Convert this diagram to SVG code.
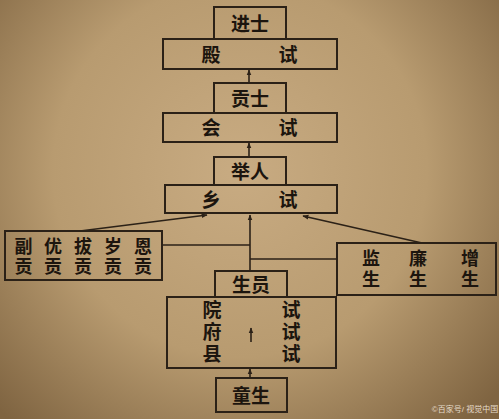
<svg xmlns="http://www.w3.org/2000/svg" width="499" height="419" viewBox="0 0 499 419">
<defs>
<radialGradient id="bg" cx="240" cy="170" r="340" gradientUnits="userSpaceOnUse">
<stop offset="0" stop-color="#c8ab82"/>
<stop offset="0.55" stop-color="#b89b70"/>
<stop offset="1" stop-color="#7f6441"/>
</radialGradient>
<marker id="ah" viewBox="0 0 10 10" refX="9" refY="5" markerWidth="6" markerHeight="6" orient="auto" markerUnits="userSpaceOnUse">
<path d="M0,1 L10,5 L0,9 z" fill="#2b2117"/>
</marker>
<style>
.b{fill:none;stroke:#2b2117;stroke-width:2}
.l{fill:none;stroke:#2b2117;stroke-width:1.6}
.t{font-family:"Liberation Sans","Noto Sans CJK SC","Noto Sans CJK TC",sans-serif;font-weight:bold;fill:#1c150e;text-anchor:middle;dominant-baseline:central}
.h{font-size:19px}
.m{font-size:19px}
.s{font-size:18px}
</style>
</defs>
<rect width="499" height="419" fill="url(#bg)"/>
<g id="connectors">
<line class="l" x1="249" y1="83" x2="249" y2="70" marker-end="url(#ah)"/>
<line class="l" x1="249" y1="157" x2="249" y2="143" marker-end="url(#ah)"/>
<line class="l" x1="250" y1="271" x2="250" y2="215" marker-end="url(#ah)"/>
<line class="l" x1="162" y1="245" x2="250" y2="245"/>
<line class="l" x1="250" y1="259" x2="337" y2="259"/>
<line class="l" x1="80" y1="231" x2="207" y2="215" marker-end="url(#ah)"/>
<line class="l" x1="422" y1="243" x2="303" y2="216" marker-end="url(#ah)"/>
<line class="l" x1="250" y1="378" x2="250" y2="369" marker-end="url(#ah)"/>
<line class="l" x1="251" y1="342" x2="251" y2="328" marker-end="url(#ah)"/>
</g>
<g id="jinshi">
<rect class="b" x="214" y="7" width="72" height="32"/>
<text class="t h" x="250" y="24">进士</text>
</g>
<g id="dianshi">
<rect class="b" x="163" y="39" width="174" height="30"/>
<text class="t m" x="211" y="55">殿</text>
<text class="t m" x="288" y="55">试</text>
</g>
<g id="gongshi">
<rect class="b" x="214" y="83" width="72" height="30"/>
<text class="t h" x="250" y="99">贡士</text>
</g>
<g id="huishi">
<rect class="b" x="163" y="113" width="174" height="29"/>
<text class="t m" x="211" y="128">会</text>
<text class="t m" x="288" y="128">试</text>
</g>
<g id="juren">
<rect class="b" x="214" y="157" width="72" height="28"/>
<text class="t h" x="250" y="172">举人</text>
</g>
<g id="xiangshi">
<rect class="b" x="165" y="185" width="172" height="28"/>
<text class="t m" x="211" y="200">乡</text>
<text class="t m" x="288" y="200">试</text>
</g>
<g id="fugong">
<rect class="b" x="5" y="231" width="157" height="49"/>
<text class="t s" x="23.5" y="246.5">副</text>
<text class="t s" x="53" y="246.5">优</text>
<text class="t s" x="83" y="246.5">拔</text>
<text class="t s" x="113" y="246.5">岁</text>
<text class="t s" x="143" y="246.5">恩</text>
<text class="t s" x="23.5" y="266.5">贡</text>
<text class="t s" x="53" y="266.5">贡</text>
<text class="t s" x="83" y="266.5">贡</text>
<text class="t s" x="113" y="266.5">贡</text>
<text class="t s" x="143" y="266.5">贡</text>
</g>
<g id="jiansheng">
<rect class="b" x="337" y="243" width="159" height="52"/>
<text class="t s" x="371" y="259">监</text>
<text class="t s" x="418" y="259">廉</text>
<text class="t s" x="470" y="259">增</text>
<text class="t s" x="371" y="280">生</text>
<text class="t s" x="418" y="280">生</text>
<text class="t s" x="470" y="280">生</text>
</g>
<g id="shengyuan">
<rect class="b" x="215" y="271" width="72" height="26"/>
<text class="t h" x="251" y="285">生员</text>
</g>
<g id="yuanshi">
<rect class="b" x="167" y="297" width="169" height="71"/>
<text class="t m" x="212" y="310">院</text>
<text class="t m" x="212" y="332">府</text>
<text class="t m" x="212" y="354">县</text>
<text class="t m" x="291" y="310">试</text>
<text class="t m" x="291" y="332">试</text>
<text class="t m" x="291" y="354">试</text>
</g>
<g id="tongsheng">
<rect class="b" x="216" y="378" width="71" height="34"/>
<text class="t h" x="251" y="396">童生</text>
</g>
<text x="465" y="409" font-family="'Liberation Sans','Noto Sans CJK SC',sans-serif" font-size="8" fill="#e6dccb" text-anchor="middle" dominant-baseline="central">©百家号/ 视觉中国</text>
</svg>
